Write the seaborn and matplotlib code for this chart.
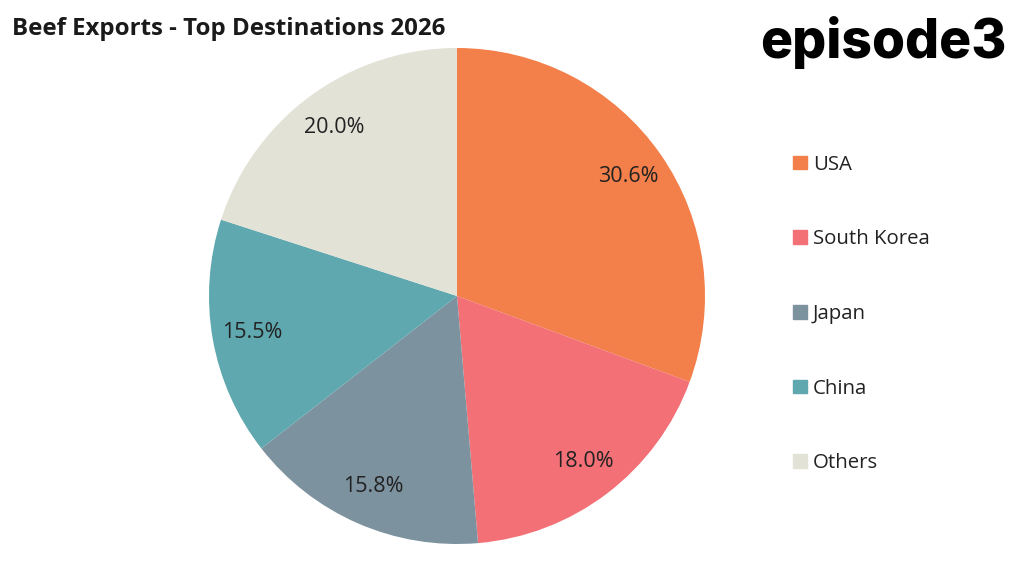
import matplotlib
matplotlib.use("Agg")
import matplotlib.pyplot as plt
import matplotlib.patches as mpatches
import seaborn as sns

# data
destinations = ["USA", "South Korea", "Japan", "China", "Others"]
shares = [30.6, 18.0, 15.8, 15.5, 20.0]
colors = ["#F3804A", "#F27076", "#7C929F", "#5FA8B0", "#E3E2D6"]

sns.set_theme(style="white")
plt.rcParams['font.family'] = ['Open Sans', 'DejaVu Sans']

W, H = 1024, 570
fig = plt.figure(figsize=(W / 100, H / 100), dpi=100)

# pie axes: centre (457, 296), radius 248 px
cx, cy, r = 457, 296, 248
ax = fig.add_axes([(cx - r) / W, (H - cy - r) / H, 2 * r / W, 2 * r / H])
wedges, _, autotexts = ax.pie(
    shares,
    colors=colors,
    startangle=90,
    counterclock=False,
    autopct="%.1f%%",
    pctdistance=0.84,
    radius=1,
    wedgeprops=dict(linewidth=0),
    textprops=dict(fontsize=15.5, color="#222222"),
)
ax.set_xlim(-1, 1)
ax.set_ylim(-1, 1)
ax.set_aspect("equal")
ax.axis("off")

# title
fig.text(12 / W, 1 - 35 / H, "Beef Exports - Top Destinations 2026",
         fontsize=17.3, fontweight="bold", color="#1a1a1a",
         ha="left", va="baseline")

# logo text
fig.text(1007 / W, 1 - 58 / H, "episode3", fontsize=38.5, fontweight="heavy",
         family=["Inter", "DejaVu Sans"], color="black",
         ha="right", va="baseline")

# legend
handles = [mpatches.Patch(color=c, label=l) for c, l in zip(colors, destinations)]
leg = fig.legend(
    handles=handles,
    loc="center left",
    bbox_to_anchor=(775 / W, 1 - 314 / H),
    frameon=False,
    fontsize=14.7,
    labelspacing=2.68,
    handlelength=0.65,
    handleheight=0.65,
    handletextpad=0.3,
    labelcolor="#222222",
)

fig.savefig("out.png", dpi=100, facecolor="white")
